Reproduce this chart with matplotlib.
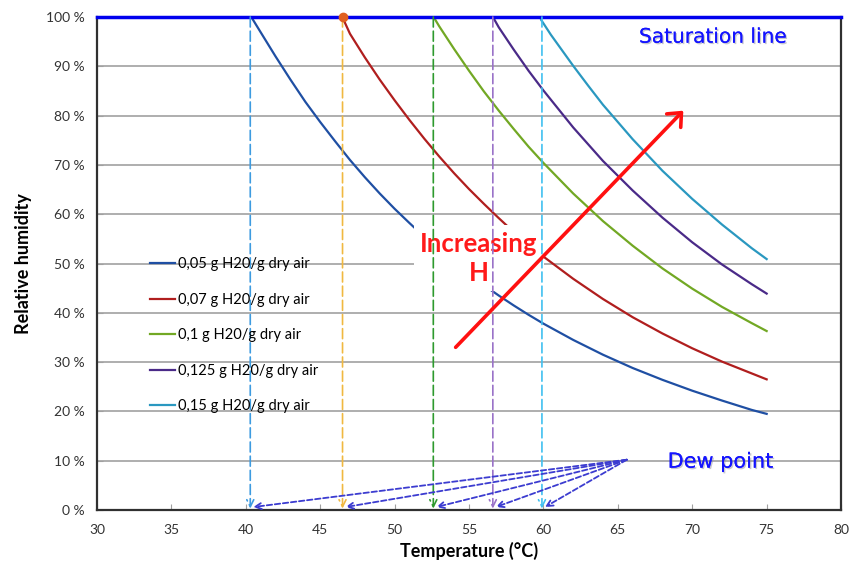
import matplotlib.pyplot as plt
import matplotlib.patheffects as pe
from matplotlib.ticker import FuncFormatter

plt.rcParams['font.family'] = ['Lato', 'DejaVu Sans']

# Relative humidity curves, temperature in C, RH in %
t_005 = [40.45, 41, 42, 43, 44, 45, 46, 47, 48, 49, 50, 51, 52, 54, 56, 57, 58, 59, 60, 62, 64, 66, 68, 70, 72, 74, 75]
rh_005 = [99.6, 96.9, 92.0, 87.3, 82.8, 78.7, 74.8, 71.0, 67.5, 64.2, 61.1, 58.2, 55.4, 50.2, 45.6, 43.5, 41.5, 39.6, 37.8, 34.5, 31.5, 28.8, 26.4, 24.2, 22.2, 20.3, 19.5]

t_007 = [46.5, 47, 48, 49, 50, 51, 52, 53, 54, 55, 56, 57, 58, 59, 60, 62, 64, 66, 68, 70, 72, 74, 75]
rh_007 = [99.9, 96.6, 91.8, 87.3, 83.1, 79.1, 75.3, 71.7, 68.3, 65.1, 62.1, 59.2, 56.4, 53.9, 51.4, 46.9, 42.8, 39.1, 35.8, 32.8, 30.1, 27.7, 26.5]

t_010 = [52.7, 53, 54, 55, 56, 57, 58, 59, 60, 62, 64, 66, 68, 70, 72, 74, 75]
rh_010 = [99.6, 98.1, 93.5, 89.1, 84.9, 81.0, 77.3, 73.7, 70.4, 64.2, 58.6, 53.6, 49.0, 44.9, 41.2, 37.9, 36.3]

t_0125 = [56.7, 57, 58, 59, 60, 62, 64, 66, 68, 70, 72, 74, 75]
rh_0125 = [99.5, 97.9, 93.4, 89.1, 85.1, 77.6, 70.8, 64.8, 59.3, 54.3, 49.8, 45.8, 43.9]

t_015 = [59.85, 60.5, 61, 62, 63, 64, 66, 68, 70, 72, 74, 75]
rh_015 = [99.4, 96.4, 94.3, 90.1, 86.1, 82.2, 75.2, 68.8, 63.1, 57.9, 53.1, 50.9]

labels = ['0,05 g H20/g dry air', '0,07 g H20/g dry air', '0,1 g H20/g dry air',
          '0,125 g H20/g dry air', '0,15 g H20/g dry air']
curve_colors = ['#1f4fa3', '#b01e1e', '#72a824', '#4a2a88', '#2a98c0']

# dew points (C)
dew_t = [40.3, 46.5, 52.6, 56.6, 59.9]
dew_colors = ['#3d9be0', '#f0b840', '#2e9a2e', '#9a72c8', '#40c0f0']

fig, ax = plt.subplots(figsize=(8.53, 5.61), dpi=100)
fig.subplots_adjust(left=0.1137, right=0.986, bottom=0.0909, top=0.9697)

ax.set_xlim(30, 80)
ax.set_ylim(0, 100)
ax.set_xticks(range(30, 81, 5))
ax.set_yticks(range(0, 101, 10))
ax.yaxis.set_major_formatter(FuncFormatter(lambda v, p: f'{v:.0f} %'))
ax.tick_params(direction='in', length=4, color='#a0a0a0', labelsize=10, labelcolor='#333333')
ax.tick_params(axis='x', pad=10)
ax.tick_params(axis='y', pad=9)
ax.grid(axis='y', color='#a8a8a8', lw=1.3, zorder=0)
ax.set_axisbelow(True)
for s in ['left', 'bottom', 'right']:
    ax.spines[s].set_color('#303030')
    ax.spines[s].set_linewidth(1.6)
ax.spines['top'].set_visible(False)

for t, rh, c, lab in zip([t_005, t_007, t_010, t_0125, t_015],
                         [rh_005, rh_007, rh_010, rh_0125, rh_015], curve_colors, labels):
    ax.plot(t, rh, color=c, lw=1.6, label=lab, zorder=2)

# saturation line
ax.plot([30, 80], [100, 100], color='#0000ee', lw=2.5, zorder=4, clip_on=False)
ax.plot([dew_t[1]], [100], 'o', color='#e06020', ms=6, zorder=5, clip_on=False)

# "Increasing H" box hides the curves behind it
ax.text(55.67, 51.1, 'Increasing\nH', color='#ff1a1a', fontsize=18.5, fontweight='bold',
        ha='center', va='center', linespacing=1.25, zorder=3,
        bbox=dict(boxstyle='square,pad=0.25', fc='white', ec='none'))

# vertical dashed lines down to the dew point
for x, c in zip(dew_t, dew_colors):
    ax.annotate('', xy=(x, 0.3), xytext=(x, 100), zorder=4,
                arrowprops=dict(arrowstyle='->,head_length=0.5,head_width=0.25', color=c,
                                lw=1.2, linestyle=(0, (6, 2.5)), shrinkA=0, shrinkB=0))

# red arrow
ax.annotate('', xy=(69.4, 81), xytext=(54.1, 33), zorder=6,
            arrowprops=dict(arrowstyle='->,head_length=0.8,head_width=0.7', color='#ff1010',
                            lw=2.6, shrinkA=0, shrinkB=0))

# dew point arrows
for x in dew_t:
    ax.annotate('', xy=(x + 0.2, 0.6), xytext=(65.6, 10.2), zorder=6,
                arrowprops=dict(arrowstyle='->,head_length=0.45,head_width=0.22', color='#3c3cd0',
                                lw=1.3, linestyle=(0, (3, 1.5)), shrinkA=0, shrinkB=0))

shadow = [pe.withSimplePatchShadow(offset=(1, -1), shadow_rgbFace='#9090a0', alpha=0.5), pe.Normal()]
ax.text(71.4, 95.9, 'Saturation line', color='#1414ff', fontsize=14.5, family='DejaVu Sans',
        ha='center', va='center', zorder=7, path_effects=shadow)
ax.text(71.9, 9.8, 'Dew point', color='#1414ff', fontsize=15, family='DejaVu Sans',
        ha='center', va='center', zorder=7, path_effects=shadow)

ax.legend(loc='upper left', bbox_to_anchor=(0.071, 0.513), frameon=False, fontsize=10.5,
          handlelength=1.7, handletextpad=0.2, labelspacing=1.48, borderpad=0, borderaxespad=0)

ax.set_xlabel('Temperature (°C)', fontsize=13, fontweight='bold', labelpad=4)
ax.set_ylabel('Relative humidity', fontsize=13, fontweight='bold', labelpad=10)

plt.savefig('out.png', dpi=100)
